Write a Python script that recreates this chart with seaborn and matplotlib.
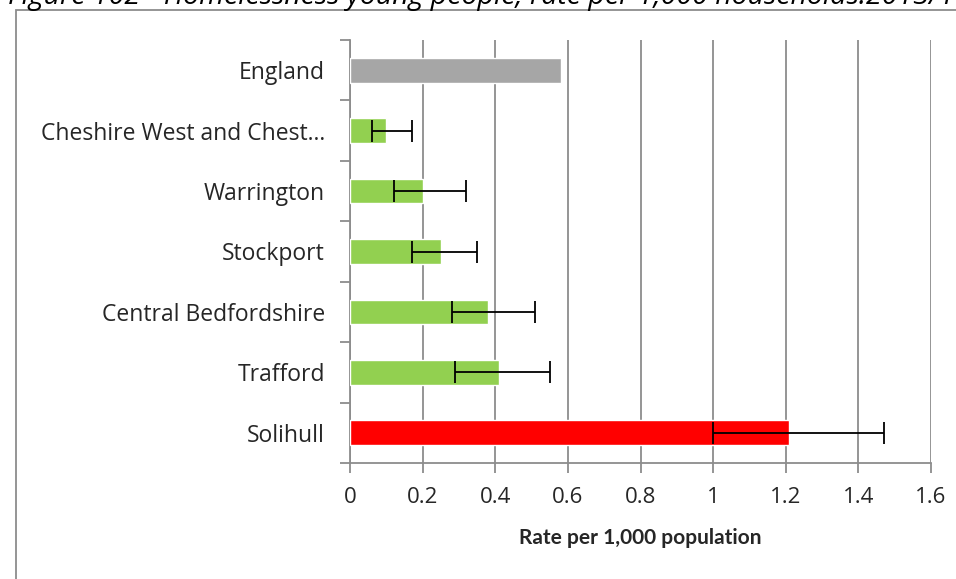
import numpy as np
import pandas as pd
import matplotlib
matplotlib.use('Agg')
import matplotlib.pyplot as plt
from matplotlib.patches import Rectangle
import seaborn as sns

# Datos
areas = ['England', 'Cheshire West and Chest...', 'Warrington', 'Stockport',
         'Central Bedfordshire', 'Trafford', 'Solihull']
rate = [0.58, 0.10, 0.20, 0.25, 0.38, 0.41, 1.21]
ci_low = [np.nan, 0.06, 0.12, 0.17, 0.28, 0.29, 1.00]
ci_high = [np.nan, 0.17, 0.32, 0.35, 0.51, 0.55, 1.47]
bar_colors = ['#a6a6a6', '#92d050', '#92d050', '#92d050', '#92d050', '#92d050', '#ff0000']

df = pd.DataFrame({'area': areas, 'rate': rate, 'low': ci_low, 'high': ci_high})

sns.set_style('white')
plt.rcParams['font.family'] = ['Open Sans', 'DejaVu Sans']

fig = plt.figure(figsize=(9.56, 5.79), dpi=100)
ax = fig.add_axes([350 / 956, 1 - 463 / 579, 581 / 956, 423 / 579])

sns.barplot(data=df, x='rate', y='area', hue='area', palette=bar_colors,
            orient='h', width=0.41, saturation=1, legend=False, ax=ax, zorder=3)

# Intervalos de confianza
ci = df.dropna()
pos = [areas.index(a) for a in ci['area']]
ax.errorbar(ci['rate'], pos,
            xerr=[ci['rate'] - ci['low'], ci['high'] - ci['rate']],
            fmt='none', ecolor='black', elinewidth=1.3, capsize=8, capthick=1.3,
            zorder=4)

ax.set_xlim(0, 1.6)
ax.set_ylim(len(areas) - 0.5, -0.5)
ax.set_xticks(np.arange(0, 1.61, 0.2))
ax.set_xticklabels(['0', '0.2', '0.4', '0.6', '0.8', '1', '1.2', '1.4', '1.6'])
ax.xaxis.grid(True, color='#8c8c8c', linewidth=1.3, zorder=0)
ax.yaxis.grid(False)
ax.set_axisbelow(True)

for s in ['top', 'right']:
    ax.spines[s].set_visible(False)
for s in ['left', 'bottom']:
    ax.spines[s].set_color('#8c8c8c')
    ax.spines[s].set_linewidth(1.3)

ax.set_yticks(np.arange(len(areas)))
ax.set_yticklabels(areas)
ax.set_yticks(np.arange(-0.5, len(areas), 1), minor=True)
ax.tick_params(axis='y', which='major', length=0, pad=18, labelsize=16.5)
ax.tick_params(axis='y', which='minor', length=7, width=1.3, color='#8c8c8c',
               direction='out', left=True)
ax.tick_params(axis='x', length=7, width=1.3, color='#8c8c8c', direction='out',
               bottom=True, pad=10, labelsize=16)

ax.set_ylabel('')
ax.set_xlabel('Rate per 1,000 population', fontsize=15, fontweight='bold',
              family=['Lato', 'DejaVu Sans'], labelpad=15)

# Marco y titulo recortado
fig.patches.append(Rectangle((16 / 956, -0.1), 1.1, 1.1 - 10 / 579,
                             transform=fig.transFigure, fill=False,
                             edgecolor='#8c8c8c', linewidth=1.3))
fig.text(8 / 956, 1 - 4 / 579, 'Figure 102 - Homelessness young people, rate per 1,000 households:2013/14',
         fontsize=20.5, fontstyle='italic', va='baseline', ha='left', color='black')

plt.savefig('out.png', dpi=100)
